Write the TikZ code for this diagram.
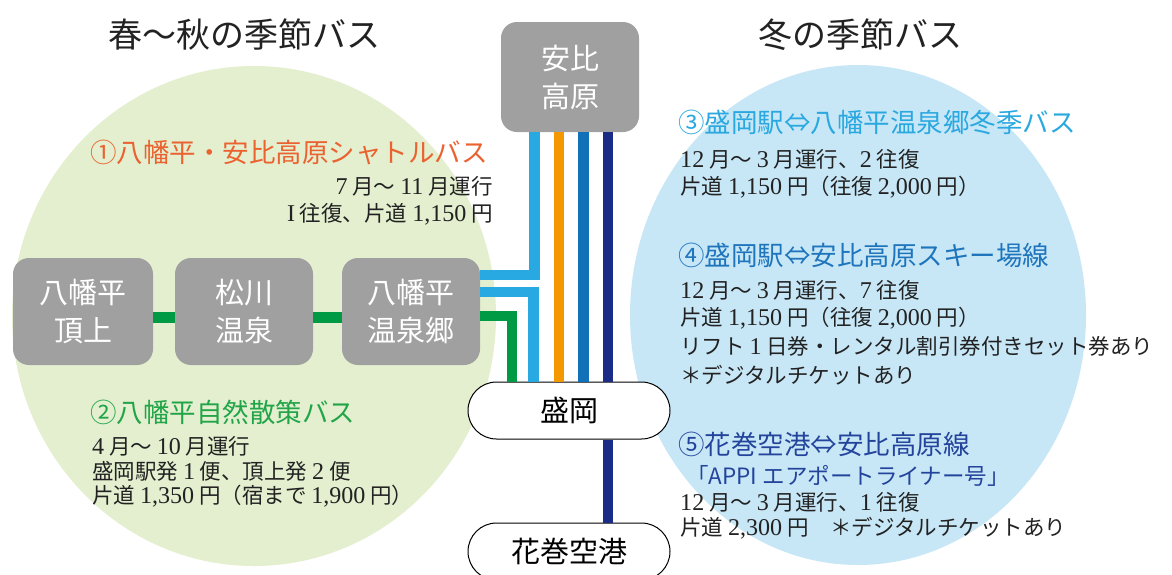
\documentclass[tikz,border=0pt]{standalone}
\usepackage{fontspec}
\setmainfont{Noto Sans CJK JP}
\newfontfamily\lser[Scale=1.12]{Liberation Serif}
\newcommand\dg[1]{{\lser #1}}
\usetikzlibrary{shapes.misc}
\definecolor{gfill}{HTML}{E3EFCF}
\definecolor{bfill}{HTML}{C7E7F7}
\definecolor{boxgrey}{HTML}{A0A0A0}
\definecolor{lblue}{HTML}{29A9E1}
\definecolor{orng}{HTML}{F39800}
\definecolor{mblue}{HTML}{1170B8}
\definecolor{navy}{HTML}{1B2C86}
\definecolor{lgreen}{HTML}{009944}
\definecolor{otitle}{HTML}{EB6230}
\definecolor{gtitle}{HTML}{22A548}
\definecolor{ltitle}{HTML}{2AA8E0}
\definecolor{mtitle}{HTML}{1F75BC}
\definecolor{ntitle}{HTML}{24449C}
\definecolor{textblack}{HTML}{222222}
\tikzset{
 gbox/.style={rectangle, rounded corners=16pt, fill=boxgrey, text=white, font=\fontsize{29}{38}\selectfont, align=center, minimum width=140pt, minimum height=107pt, inner sep=0pt},
 pill/.style={rounded rectangle, draw=black, line width=1pt, fill=white, minimum width=202pt, minimum height=57pt, font=\fontsize{29}{34}\selectfont, inner sep=0pt},
 ttl/.style={font=\fontsize{26.5}{30}\selectfont, inner sep=0pt, anchor=west},
 bod/.style={font=\fontsize{21.5}{26}\selectfont, inner sep=0pt, anchor=west, text=textblack},
 hd/.style={font=\fontsize{34}{40}\selectfont, inner sep=0pt, text=textblack},
 rt/.style={line width=10.5pt},
}
\begin{document}
\begin{tikzpicture}[x=1pt,y=-1pt]
\useasboundingbox (0,0) rectangle (1172,574);
\fill[white] (0,0) rectangle (1172,574);
\fill[gfill] (254,316) ellipse [x radius=242pt, y radius=250pt];
\fill[bfill] (858,315) ellipse [x radius=228pt, y radius=250pt];

% headings
\node[hd] (h1) at (244,35) {春～秋の季節バス};
\node[hd] (h2) at (860,35) {冬の季節バス};

% stop boxes
\node[gbox, minimum height=110pt, minimum width=138pt] (ab) at (570,77) {安比\\高原};
\node[gbox] (k1) at (83,311.5) {八幡平\\頂上};
\node[gbox, minimum width=138pt] (k2) at (244,311.5) {松川\\温泉};
\node[gbox, minimum width=138pt] (k3) at (411,311.5) {八幡平\\温泉郷};
\node[pill] (mo) at (569,410.5) {盛岡};
\node[pill] (hk) at (569,551.5) {花巻空港};

% route lines
\draw[rt,lblue] ([xshift=-35.5pt]ab.south) |- ([yshift=36.5pt]k3.east);
\draw[rt,lblue] ([yshift=19.5pt]k3.east) -| ([xshift=-35.5pt]mo.north);
\draw[rt,lgreen] ([yshift=-4.5pt]k3.east) -| ([xshift=-57pt]mo.north);
\draw[rt,orng] ([xshift=-11pt]ab.south) -- ([xshift=-10pt]mo.north);
\draw[rt,mblue] ([xshift=13.5pt]ab.south) -- ([xshift=14.5pt]mo.north);
\draw[rt,navy] ([xshift=38pt]ab.south) -- ([xshift=39pt]mo.north);
\draw[rt,navy] ([xshift=39pt]mo.south) -- ([xshift=39pt]hk.north);
\draw[rt,lgreen] ([yshift=-6pt]k1.east) -- ([yshift=-6pt]k2.west);
\draw[rt,lgreen] ([yshift=-6pt]k2.east) -- ([yshift=-6pt]k3.west);

% route 1
\node[ttl, text=otitle] (r1) at (90,152) {①八幡平・安比高原シャトルバス};
\node[bod, anchor=east] (r1a) at (493,186) {\dg{7} 月～ \dg{11} 月運行};
\node[bod, anchor=east] (r1b) at (493,214) {\dg{I} 往復、片道 \dg{1,150} 円};

% route 2
\node[ttl, text=gtitle] (r2) at (90,412) {②八幡平自然散策バス};
\node[bod] (r2a) at (92,446) {\dg{4} 月～ \dg{10} 月運行};
\node[bod] (r2b) at (92,471) {盛岡駅発 \dg{1} 便、頂上発 \dg{2} 便};
\node[bod] (r2c) at (92,496) {片道 \dg{1,350} 円（宿まで \dg{1,900} 円）};

% route 3
\node[ttl, text=ltitle] (r3) at (678,123) {③盛岡駅⇔八幡平温泉郷冬季バス};
\node[bod] (r3a) at (680,159) {\dg{12} 月～ \dg{3} 月運行、\dg{2} 往復};
\node[bod] (r3b) at (680,187) {片道 \dg{1,150} 円（往復 \dg{2,000} 円）};

% route 4
\node[ttl, text=mtitle] (r4) at (678,255) {④盛岡駅⇔安比高原スキー場線};
\node[bod] (r4a) at (680,290) {\dg{12} 月～ \dg{3} 月運行、\dg{7} 往復};
\node[bod] (r4b) at (680,318) {片道 \dg{1,150} 円（往復 \dg{2,000} 円）};
\node[bod] (r4c) at (680,346) {リフト \dg{1} 日券・レンタル割引券付きセット券あり};
\node[bod] (r4d) at (680,375) {＊デジタルチケットあり};

% route 5
\node[ttl, text=ntitle] (r5) at (678,444) {⑤花巻空港⇔安比高原線};
\node[ttl, text=ntitle, font=\fontsize{22.5}{26}\selectfont] (r5s) at (686,476) {「APPI エアポートライナー号」};
\node[bod] (r5a) at (680,502) {\dg{12} 月～ \dg{3} 月運行、\dg{1} 往復};
\node[bod] (r5b) at (680,528) {片道 \dg{2,300} 円　＊デジタルチケットあり};
\end{tikzpicture}
\end{document}
